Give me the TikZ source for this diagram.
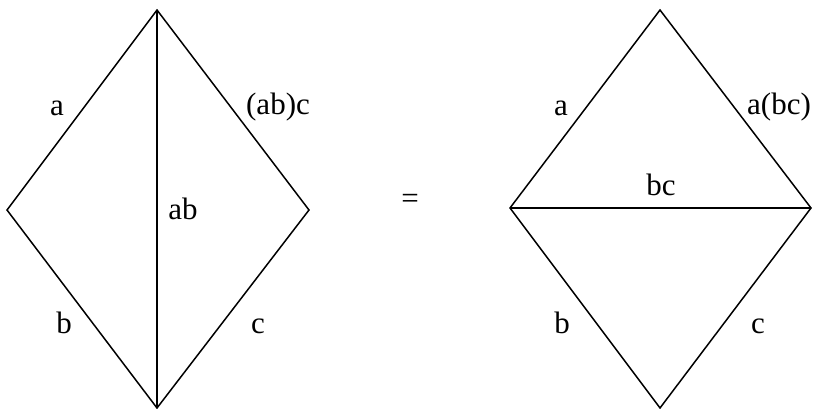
\documentclass[tikz,border=0pt]{standalone}
\usepackage{fontspec}
\setmainfont{Liberation Serif}
\usepackage{tikz}

\begin{document}
\begin{tikzpicture}[x=1pt, y=-1pt, line width=1.5pt,
  lbl/.style={font=\fontsize{31}{36}\selectfont, inner sep=0pt, anchor=base}]
\useasboundingbox (0,0) rectangle (817,409);
% left diamond
\coordinate (lt) at (157,10);
\coordinate (ll) at (7,210);
\coordinate (lr) at (309,210);
\coordinate (lb) at (157,408);
\draw (lt) -- (lr) -- (lb) -- (ll) -- cycle;
\draw (lt) -- (lb);
\node[lbl] (la) at (57,116) {a};
\node[lbl] (labc) at (278,115) {(ab)c};
\node[lbl] (lab) at (183,219) {ab};
\node[lbl] (lbb) at (64,333) {b};
\node[lbl] (lc) at (258,333) {c};
% equals
\node[lbl, anchor=center] (eq) at (410,201) {=};
% right diamond
\coordinate (rt) at (660,10);
\coordinate (rl) at (510,208);
\coordinate (rr) at (811,208);
\coordinate (rb) at (660,408);
\draw (rt) -- (rr) -- (rb) -- (rl) -- cycle;
\draw (rl) -- (rr);
\node[lbl] (ra) at (561,116) {a};
\node[lbl] (rabc) at (779,115) {a(bc)};
\node[lbl] (rbc) at (661,196) {bc};
\node[lbl] (rbb) at (562,333) {b};
\node[lbl] (rc) at (758,333) {c};
\end{tikzpicture}
\end{document}
